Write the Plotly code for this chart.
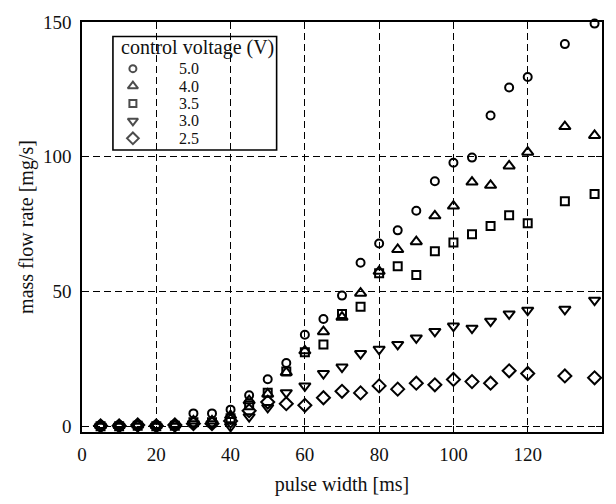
import plotly.graph_objects as go

# Pulse widths (ms) at which mass flow rate was measured
pulse_width = [5, 10, 15, 20, 25, 30, 35, 40, 45, 50, 55, 60, 65, 70, 75, 80,
               85, 90, 95, 100, 105, 110, 115, 120, 130, 138]

# Mass flow rate (mg/s) for each control voltage
flow_5v0 = [0.5, 0.5, 0.8, 0.5, 0.8, 4.8, 4.8, 6.2, 11.5, 17.5, 23.5, 34.0,
            39.8, 48.5, 60.7, 67.8, 72.7, 80.0, 90.9, 97.8, 99.7, 115.3,
            125.7, 129.6, 141.8, 149.4]
flow_4v0 = [0.3, 0.3, 0.5, 0.3, 0.5, 2.0, 2.0, 4.0, 9.5, 12.0, 20.0, 28.0,
            35.1, 40.5, 49.4, 57.5, 65.6, 68.5, 78.1, 81.7, 90.6, 89.4,
            96.6, 101.7, 111.2, 107.9]
flow_3v5 = [0.0, 0.0, 0.2, 0.0, 0.2, 1.5, 1.5, 3.0, 7.8, 12.5, 20.3, 27.5,
            30.4, 41.7, 44.4, 56.8, 59.4, 56.1, 65.0, 68.2, 71.3, 74.3,
            78.3, 75.3, 83.5, 86.2]
flow_3v0 = [0.0, 0.0, 0.0, 0.0, 0.0, 1.0, 1.0, 0.0, 3.6, 7.0, 12.5, 15.0,
            19.6, 22.0, 27.0, 28.6, 30.4, 32.8, 35.2, 37.2, 36.4, 39.0,
            41.7, 43.1, 43.4, 46.8]
flow_2v5 = [0.2, 0.2, 0.5, 0.2, 0.5, 1.0, 1.0, 2.0, 5.8, 9.0, 8.4, 7.8,
            10.6, 13.0, 12.4, 15.0, 13.8, 16.0, 15.4, 17.4, 16.6, 16.0,
            20.6, 19.6, 18.7, 18.0]

voltage_labels = ["5.0", "4.0", "3.5", "3.0", "2.5"]
series = [flow_5v0, flow_4v0, flow_3v5, flow_3v0, flow_2v5]
symbols = ["circle-open", "triangle-up-open", "square-open",
           "triangle-down-open", "diamond-open"]
sizes = [8, 10, 8, 10, 10]

SERIF = "Liberation Serif, Times New Roman, serif"
INK = "#111111"

# Figure and plot-area geometry in pixels
W, H = 616, 504
PLOT_L, PLOT_R, PLOT_T, PLOT_B = 82, 603, 15, 441


def px_to_paper_x(px):
    return (px - PLOT_L) / (PLOT_R - PLOT_L)


def px_to_paper_y(py):
    return (PLOT_B - py) / (PLOT_B - PLOT_T)


fig = go.Figure()
for values, sym, sz in zip(series, symbols, sizes):
    fig.add_trace(go.Scatter(
        x=pulse_width, y=values, mode="markers", showlegend=False,
        marker=dict(symbol=sym, size=sz, color="black",
                    line=dict(width=2, color="black")),
        cliponaxis=False,
    ))

# Boxed key: title row followed by one row per control voltage
BOX_L, BOX_R, BOX_T, BOX_B = 113, 277, 30, 148
TITLE_Y = 42
ROW0_Y, ROW_PITCH = 63.5, 18.1
KEY_X, LABEL_X = 133, 177

fig.add_shape(type="rect", xref="paper", yref="paper",
              x0=px_to_paper_x(BOX_L), x1=px_to_paper_x(BOX_R),
              y0=px_to_paper_y(BOX_B), y1=px_to_paper_y(BOX_T),
              line=dict(color="black", width=1.6), fillcolor="white",
              layer="between")
fig.add_annotation(text="control voltage (V)", xref="paper", yref="paper",
                   x=px_to_paper_x(BOX_L + 6), y=px_to_paper_y(TITLE_Y),
                   xanchor="left", yanchor="middle", showarrow=False,
                   font=dict(family=SERIF, size=20, color=INK))

row_ys = [ROW0_Y + i * ROW_PITCH for i in range(len(voltage_labels))]
for label, row_y in zip(voltage_labels, row_ys):
    fig.add_annotation(text=label, xref="paper", yref="paper",
                       x=px_to_paper_x(LABEL_X), y=px_to_paper_y(row_y),
                       xanchor="left", yanchor="middle", showarrow=False,
                       font=dict(family=SERIF, size=16, color=INK))

# Key symbols sit on an overlay axis spanning the plot area in paper units
fig.add_trace(go.Scatter(
    x=[px_to_paper_x(KEY_X)] * len(row_ys),
    y=[px_to_paper_y(y) for y in row_ys],
    xaxis="x2", yaxis="y2", mode="markers", showlegend=False,
    hoverinfo="skip",
    marker=dict(symbol=symbols, size=[s - 1 for s in sizes], color="black",
                line=dict(width=2, color="black")),
    cliponaxis=False,
))

axis_common = dict(
    showline=True, linecolor="black", linewidth=1.6, mirror="ticks",
    ticks="inside", ticklen=6, tickwidth=1.3, tickcolor="black",
    showgrid=True, gridcolor="black", gridwidth=1.2, griddash="7px,4px",
    zeroline=False,
    tickfont=dict(family=SERIF, size=19, color=INK),
    title_font=dict(family=SERIF, size=20, color=INK),
)

fig.update_xaxes(range=[0, 140], dtick=20, title_text="pulse width [ms]",
                 title_standoff=13, ticklabelstandoff=4, **axis_common)
fig.update_yaxes(range=[-2.1, 150], tickvals=[0, 50, 100, 150],
                 title_text="mass flow rate [mg/s]", title_standoff=4,
                 ticklabelstandoff=5, **axis_common)

fig.update_layout(
    width=W, height=H,
    margin=dict(l=PLOT_L, r=W - PLOT_R, t=PLOT_T, b=H - PLOT_B),
    paper_bgcolor="white", plot_bgcolor="white",
    xaxis2=dict(overlaying="x", range=[0, 1], visible=False, fixedrange=True),
    yaxis2=dict(overlaying="y", range=[0, 1], visible=False, fixedrange=True),
)

fig.write_html("out.html")
